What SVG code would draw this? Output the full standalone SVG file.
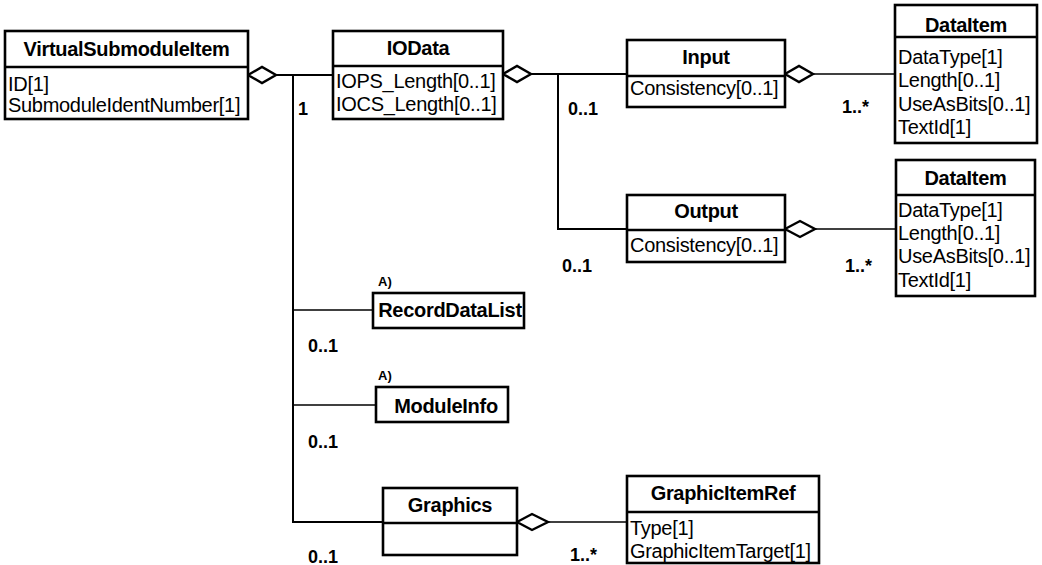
<svg xmlns="http://www.w3.org/2000/svg" width="1042" height="565" viewBox="0 0 1042 565">
<style>
.box{fill:#fff;stroke:#000;stroke-width:2.6}
.div{stroke:#000;stroke-width:2.6}
.t{font-family:"Liberation Sans",Arial,sans-serif;font-weight:bold;font-size:20px;letter-spacing:-0.3px;text-anchor:middle;fill:#000}
.a{font-family:"Liberation Sans",Arial,sans-serif;font-size:20px;letter-spacing:-0.3px;fill:#000}
.m{font-family:"Liberation Sans",Arial,sans-serif;font-weight:bold;font-size:18px;fill:#000}
.n{font-family:"Liberation Sans",Arial,sans-serif;font-weight:bold;font-size:13px;fill:#000}
.c{fill:none;stroke:#000;stroke-width:2}
.ct{fill:none;stroke:#000;stroke-width:1.5}
.dm{fill:#fff;stroke:#000;stroke-width:2.4}
</style>
<rect width="1042" height="565" fill="#fff"/>
<g id="connectors">
<line class="c" x1="276" y1="75" x2="333" y2="75"/>
<polyline class="c" points="293,75 293,522 383,522"/>
<line class="ct" x1="293" y1="310" x2="373" y2="310"/>
<line class="ct" x1="293" y1="405" x2="376" y2="405"/>
<line class="c" x1="531" y1="74" x2="627" y2="74"/>
<polyline class="c" points="558,74 558,229 627,229"/>
<line class="ct" x1="813" y1="74" x2="895" y2="74"/>
<line class="ct" x1="815" y1="229" x2="896" y2="229"/>
<line class="ct" x1="548" y1="522" x2="627" y2="522"/>
<polygon class="dm" points="248,75 262,67 276,75 262,83"/>
<polygon class="dm" points="503,74 517,66 531,74 517,82"/>
<polygon class="dm" points="785,74 799,66 813,74 799,82"/>
<polygon class="dm" points="785,229 800,221 815,229 800,237"/>
<polygon class="dm" points="517,522 532,514 548,522 532,530"/>
<text class="m" x="298" y="115">1</text>
<text class="m" x="568" y="115">0..1</text>
<text class="m" x="842" y="113">1..*</text>
<text class="m" x="562" y="272">0..1</text>
<text class="m" x="845" y="272">1..*</text>
<text class="m" x="308" y="352">0..1</text>
<text class="m" x="308" y="448">0..1</text>
<text class="m" x="308" y="563">0..1</text>
<text class="m" x="570" y="561">1..*</text>
</g>
<g id="VirtualSubmoduleItem">
<rect class="box" x="5" y="31" width="243" height="88"/>
<line class="div" x1="5" y1="67" x2="248" y2="67"/>
<text class="t" x="126.5" y="56">VirtualSubmoduleItem</text>
<text class="a" x="8" y="91">ID[1]</text>
<text class="a" x="8" y="112">SubmoduleIdentNumber[1]</text>
</g>
<g id="IOData">
<rect class="box" x="333" y="31" width="170" height="88"/>
<line class="div" x1="333" y1="66" x2="503" y2="66"/>
<text class="t" x="418" y="55">IOData</text>
<text class="a" x="336" y="88">IOPS_Length[0..1]</text>
<text class="a" x="336" y="111">IOCS_Length[0..1]</text>
</g>
<g id="Input">
<rect class="box" x="627" y="40" width="158" height="67"/>
<line class="div" x1="627" y1="76" x2="785" y2="76"/>
<text class="t" x="706" y="64">Input</text>
<text class="a" x="630" y="95">Consistency[0..1]</text>
</g>
<g id="DataItem1">
<rect class="box" x="895" y="5" width="142" height="138"/>
<line class="div" x1="895" y1="37" x2="1037" y2="37"/>
<text class="t" x="966" y="32">DataItem</text>
<text class="a" x="898" y="64">DataType[1]</text>
<text class="a" x="898" y="87">Length[0..1]</text>
<text class="a" x="898" y="111">UseAsBits[0..1]</text>
<text class="a" x="898" y="134">TextId[1]</text>
</g>
<g id="Output">
<rect class="box" x="627" y="195" width="158" height="67"/>
<line class="div" x1="627" y1="230" x2="785" y2="230"/>
<text class="t" x="706" y="218">Output</text>
<text class="a" x="630" y="252">Consistency[0..1]</text>
</g>
<g id="DataItem2">
<rect class="box" x="896" y="160" width="139" height="136"/>
<line class="div" x1="896" y1="195" x2="1035" y2="195"/>
<text class="t" x="965.5" y="185">DataItem</text>
<text class="a" x="898" y="217">DataType[1]</text>
<text class="a" x="898" y="240">Length[0..1]</text>
<text class="a" x="898" y="263">UseAsBits[0..1]</text>
<text class="a" x="898" y="287">TextId[1]</text>
</g>
<g id="RecordDataList">
<text class="n" x="378" y="286">A)</text>
<rect class="box" x="373" y="293" width="151" height="35"/>
<text class="t" x="450" y="317">RecordDataList</text>
</g>
<g id="ModuleInfo">
<text class="n" x="378" y="380">A)</text>
<rect class="box" x="376" y="387" width="132" height="35"/>
<text class="t" x="446" y="413">ModuleInfo</text>
</g>
<g id="Graphics">
<rect class="box" x="383" y="488" width="134" height="67"/>
<line class="div" x1="383" y1="523" x2="517" y2="523"/>
<text class="t" x="450" y="512">Graphics</text>
</g>
<g id="GraphicItemRef">
<rect class="box" x="627" y="476" width="192" height="87"/>
<line class="div" x1="627" y1="512" x2="819" y2="512"/>
<text class="t" x="723" y="500">GraphicItemRef</text>
<text class="a" x="630" y="535">Type[1]</text>
<text class="a" x="630" y="558">GraphicItemTarget[1]</text>
</g>
</svg>
